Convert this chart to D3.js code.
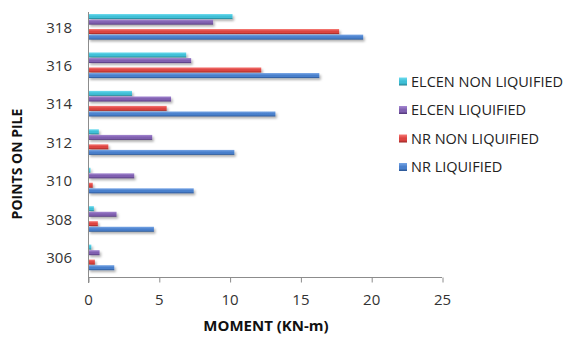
<!DOCTYPE html>
<html><head><meta charset="utf-8">
<script src="https://cdn.jsdelivr.net/npm/d3@7"></script>
<style>body{margin:0;background:#fff} svg{display:block}</style>
</head><body>
<svg id="c" width="574" height="337"></svg>
<script>
const categories = ["306","308","310","312","314","316","318"];
const seriesNames = ["ELCEN NON LIQUIFIED","ELCEN LIQUIFIED","NR NON LIQUIFIED","NR LIQUIFIED"];
const elcenNonLiquified = [0.2,0.38,0.14,0.73,3.07,6.9,10.17];
const elcenLiquified   = [0.78,1.98,3.23,4.5,5.83,7.25,8.8];
const nrNonLiquified   = [0.45,0.66,0.3,1.4,5.52,12.2,17.7];
const nrLiquified      = [1.82,4.62,7.43,10.3,13.2,16.3,19.4];
const xTicks = [0,5,10,15,20,25];
const xTitle = "MOMENT (KN-m)";
const yTitle = "POINTS ON PILE";

const seriesValues = [elcenNonLiquified, elcenLiquified, nrNonLiquified, nrLiquified];
const colors = [
  {top:"#6ddcef", mid:"#3fbfd6", bot:"#227f8f"},
  {top:"#a588d2", mid:"#8060b0", bot:"#4f3577"},
  {top:"#f77a76", mid:"#dc4441", bot:"#9a2523"},
  {top:"#78a6e6", mid:"#4a80cc", bot:"#28528f"}
];
const offsets = [-13.2, -7.6, 1.8, 7.4];
const barH = 5;
const font = "'Open Sans', sans-serif";

const svg = d3.select("#c");
const defs = svg.append("defs");
const f = defs.append("filter").attr("id","sh").attr("x","-5%").attr("y","-50%").attr("width","115%").attr("height","250%");
f.append("feDropShadow").attr("dx",1.5).attr("dy",2).attr("stdDeviation",1.1).attr("flood-color","#000").attr("flood-opacity",0.3);
colors.forEach((c,i)=>{
  const g = defs.append("linearGradient").attr("id","g"+i).attr("x1",0).attr("y1",0).attr("x2",0).attr("y2",1);
  g.append("stop").attr("offset","0%").attr("stop-color",c.top);
  g.append("stop").attr("offset","45%").attr("stop-color",c.mid);
  g.append("stop").attr("offset","70%").attr("stop-color",c.mid);
  g.append("stop").attr("offset","100%").attr("stop-color",c.bot);
});

const x = d3.scaleLinear().domain([0,25]).range([88,442]);
const y = d3.scaleBand().domain(categories.slice().reverse()).range([8,277]);

// bars
seriesValues.forEach((vals,si)=>{
  svg.append("g").attr("filter","url(#sh)")
    .selectAll("rect").data(vals.map((v,i)=>({v,c:categories[i]})))
    .join("rect")
    .attr("x",x(0)+0.5)
    .attr("y",d=>y(d.c)+y.bandwidth()/2+offsets[si])
    .attr("width",d=>Math.max(0.8,x(d.v)-x(0)))
    .attr("height",barH)
    .attr("fill","url(#g"+si+")");
});

// axes
const axisColor = "#8c8c8c";
svg.append("line").attr("x1",88.5).attr("x2",88.5).attr("y1",12).attr("y2",283).attr("stroke",axisColor);
svg.append("line").attr("x1",88).attr("x2",442).attr("y1",277.5).attr("y2",277.5).attr("stroke",axisColor);
const xa = svg.append("g").attr("transform","translate(0,277.5)")
  .call(d3.axisBottom(x).tickValues(xTicks).tickSize(5).tickSizeOuter(0).tickFormat(d3.format("d")));
xa.select(".domain").remove();
xa.selectAll("line").attr("stroke",axisColor).attr("transform","translate(0.5,0)");
xa.selectAll("text").attr("font-family",font).attr("font-size",15).attr("fill","#333").attr("dy","0").attr("y",27);

const ya = svg.append("g").attr("transform","translate(88,0)")
  .call(d3.axisLeft(y).tickSize(0).tickPadding(16));
ya.select(".domain").remove();
ya.selectAll("text").attr("font-family",font).attr("font-size",15).attr("fill","#333").attr("dy","0.36em");

// titles
svg.append("text").attr("x",266).attr("y",331).attr("text-anchor","middle")
  .attr("font-family",font).attr("font-weight","bold").attr("font-size",15).attr("fill","#111").text(xTitle);
svg.append("text").attr("transform","translate(22,164) rotate(-90)").attr("text-anchor","middle")
  .attr("font-family",font).attr("font-weight","bold").attr("font-size",14).attr("fill","#111").text(yTitle);

// legend
const legY = [81.5,110,138.5,167];
const lg = svg.append("g");
seriesNames.forEach((n,i)=>{
  lg.append("rect").attr("x",399).attr("y",legY[i]-4).attr("width",8).attr("height",8).attr("fill","url(#g"+i+")");
  lg.append("text").attr("x",411).attr("y",legY[i]).attr("dy","0.36em")
    .attr("font-family",font).attr("font-size",14.5).attr("fill","#222").text(n);
});
</script>
</body></html>
